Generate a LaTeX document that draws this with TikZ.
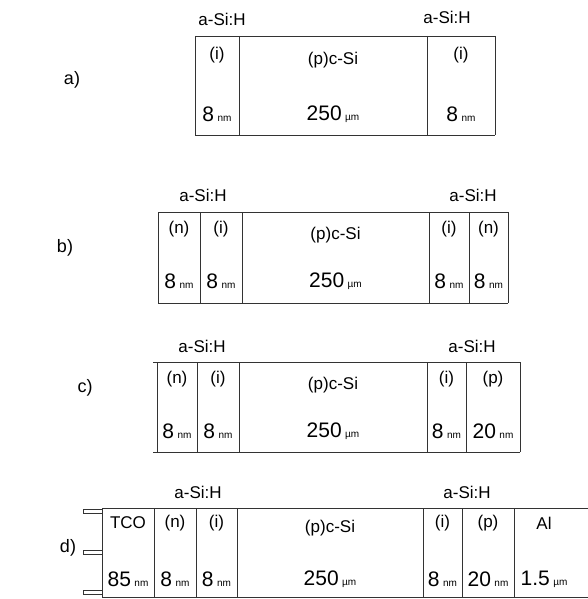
\documentclass[tikz,border=0pt]{standalone}
\usepackage{fontspec}
\setmainfont{Liberation Sans}
\newcommand\un[1]{\,{\fontsize{10}{11}\selectfont #1}}

\begin{document}
\begin{tikzpicture}[x=1pt,y=-1pt,
  wall/.style={draw=black!80,line width=0.8pt},
  head/.style={font=\fontsize{17}{19}\selectfont,inner sep=0pt},
  val/.style={font=\fontsize{21}{23}\selectfont,inner sep=0pt},
  tag/.style={font=\fontsize{18}{20}\selectfont,inner sep=0pt}]
  \useasboundingbox (0,0) rectangle (588,599);
  \clip (0,0) rectangle (588,599);
  %
  % a) (i)/(p)c-Si/(i)
  \pgfmathsetmacro{\Top}{36};
  \pgfmathsetmacro{\Bot}{135};
  \node[tag] (a-tag) at (72,80) {a)};
  \node[head] (a-left) at (222,19) {a-Si:H};
  \node[head] (a-right) at (447,17) {a-Si:H};
  \draw[wall] (195,\Top) -- (495,\Top) (195,\Bot) -- (495,\Bot);
  \foreach \x in {195,239,427,495}
    \draw[wall] (\x,\Top) -- (\x,\Bot);
  \foreach \xa/\xb/\dy/\lay/\num/\Unit [count=\i] in
    {195/239/19/{(i)}/8/nm, 239/427/24/{(p)c-Si}/250/µm, 427/495/19/{(i)}/8/nm}{
    \node[head] (a-lay-\i) at ({(\xa+\xb)/2},{\Top+\dy}) {\lay};
    \node[val] (a-val-\i) at ({(\xa+\xb)/2},{\Bot-21}) {\num\un{\Unit}};
  }
  %
  % b) (n)(i)/(p)c-Si/(i)(n)
  \pgfmathsetmacro{\Top}{212};
  \pgfmathsetmacro{\Bot}{303};
  \node[tag] (b-tag) at (65,248) {b)};
  \node[head] (b-left) at (203,195) {a-Si:H};
  \node[head] (b-right) at (473,195) {a-Si:H};
  \draw[wall] (158,\Top) -- (508,\Top) (158,\Bot) -- (508,\Bot);
  \foreach \x in {158,200,242,429,469,508}
    \draw[wall] (\x,\Top) -- (\x,\Bot);
  \foreach \xa/\xb/\dy/\lay/\num/\Unit [count=\i] in
    {158/200/17/{(n)}/8/nm, 200/242/17/{(i)}/8/nm, 242/429/23/{(p)c-Si}/250/µm,
     429/469/17/{(i)}/8/nm, 469/508/17/{(n)}/8/nm}{
    \node[head] (b-lay-\i) at ({(\xa+\xb)/2},{\Top+\dy}) {\lay};
    \node[val] (b-val-\i) at ({(\xa+\xb)/2},{\Bot-22}) {\num\un{\Unit}};
  }
  %
  % c) (n)(i)/(p)c-Si/(i)(p)
  \pgfmathsetmacro{\Top}{362};
  \pgfmathsetmacro{\Bot}{452};
  \node[tag] (c-tag) at (85,388) {c)};
  \node[head] (c-left) at (202,346) {a-Si:H};
  \node[head] (c-right) at (472,346) {a-Si:H};
  \draw[wall] (153,\Top) -- (520,\Top) (153,\Bot) -- (520,\Bot);
  \foreach \x in {157,197,239,427,466,520}
    \draw[wall] (\x,\Top) -- (\x,\Bot);
  \foreach \xa/\xb/\dy/\lay/\num/\Unit [count=\i] in
    {157/197/17/{(n)}/8/nm, 197/239/17/{(i)}/8/nm, 239/427/23/{(p)c-Si}/250/µm,
     427/466/17/{(i)}/8/nm, 466/520/17/{(p)}/20/nm}{
    \node[head] (c-lay-\i) at ({(\xa+\xb)/2},{\Top+\dy}) {\lay};
    \node[val] (c-val-\i) at ({(\xa+\xb)/2},{\Bot-21}) {\num\un{\Unit}};
  }
  %
  % d) TCO(n)(i)/(p)c-Si/(i)(p)Al
  \pgfmathsetmacro{\Top}{508};
  \pgfmathsetmacro{\Bot}{597};
  \node[tag] (d-tag) at (68,548) {d)};
  \node[head] (d-left) at (198,492) {a-Si:H};
  \node[head] (d-right) at (467,492) {a-Si:H};
  \draw[wall] (102,\Top) -- (592,\Top) (102,\Bot) -- (592,\Bot);
  \foreach \x in {102,154,196,237,423,462,514}
    \draw[wall] (\x,\Top) -- (\x,\Bot);
  \foreach \xa/\xb/\dy/\lay/\num/\Unit [count=\i] in
    {102/154/15/TCO/85/nm, 154/196/15/{(n)}/8/nm, 196/237/15/{(i)}/8/nm,
     237/423/20/{(p)c-Si}/250/µm, 423/462/15/{(i)}/8/nm, 462/514/15/{(p)}/20/nm,
     514/574/15/Al/1.5/µm}{
    \node[head] (d-lay-\i) at ({(\xa+\xb)/2},{\Top+\dy}) {\lay};
    \node[val] (d-val-\i) at ({(\xa+\xb)/2},{\Bot-18}) {\num\un{\Unit}};
  }
  % front contacts
  \foreach \y [count=\i] in {509,550,590}
    \draw[wall] (83,\y) rectangle (102,\y+4) coordinate (contact-\i);
\end{tikzpicture}
\end{document}
